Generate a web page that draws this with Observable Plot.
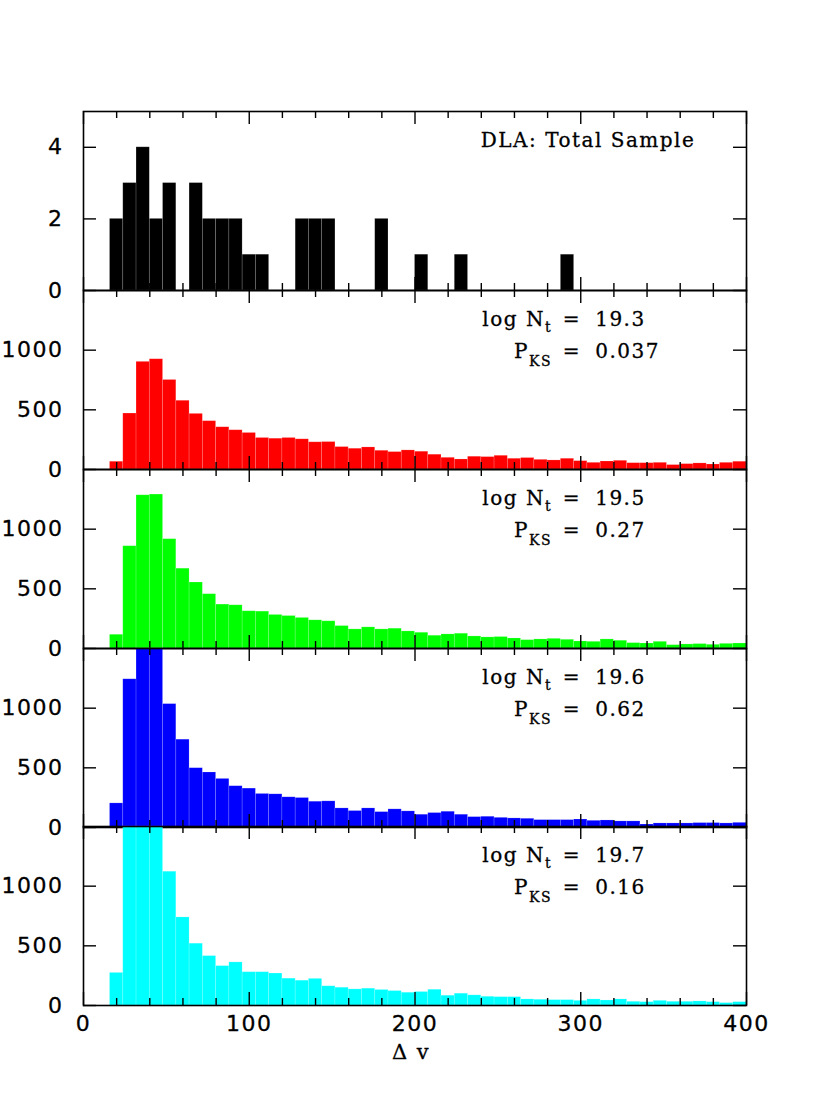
<!DOCTYPE html>
<html><head><meta charset="utf-8">
<script src="https://cdn.jsdelivr.net/npm/d3@7"></script>
<script src="https://cdn.jsdelivr.net/npm/@observablehq/plot@0.6"></script>
<style>
body{margin:0;background:#fff;}
#chart{position:relative;width:830px;height:1117px;overflow:hidden;}
#chart svg{position:absolute;left:0;}
</style></head><body><div id="chart"></div>
<script>
// ---- data (bin left edges, width 8 in Δv) ----
const binLo = [16,24,32,40,48,56,64,72,80,88,96,104,112,120,128,136,144,152,160,168,176,184,192,200,208,216,224,232,240,248,256,264,272,280,288,296,304,312,320,328,336,344,352,360,368,376,384,392];
const binWidth = 8;
const dlaCounts = [2,3,4,2,3,0,3,2,2,2,1,1,0,0,2,2,2,0,0,0,2,0,0,1,0,0,1,0,0,0,0,0,0,0,1,0,0,0,0,0,0,0,0,0,0,0,0,0];
const counts193 = [65,469,902,924,750,576,466,405,354,329,306,264,258,264,253,228,230,188,174,185,157,146,160,149,124,98,84,107,104,115,90,96,81,76,90,70,56,67,73,53,53,56,37,45,51,42,56,65];
const counts195 = [115,857,1284,1290,916,669,553,455,368,362,312,309,281,272,256,236,228,188,160,177,160,166,143,132,107,118,124,101,93,96,84,70,76,81,73,59,56,76,65,45,42,56,28,34,37,31,39,42];
const counts196 = [202,1242,1560,1540,1034,736,497,461,407,346,326,281,278,253,247,216,219,160,138,160,129,152,135,107,121,132,107,87,90,81,76,73,62,62,62,67,56,59,51,51,25,34,34,34,37,37,34,39];
const counts197 = [273,1620,1800,1700,1121,738,518,414,330,361,279,279,268,225,208,223,161,149,135,141,130,121,107,113,132,82,99,85,73,70,70,51,48,45,45,39,51,42,51,31,28,39,31,31,34,28,20,28];
const panelTitle = "DLA: Total Sample";
const logNt = ["19.3","19.5","19.6","19.7"];
const pKS = ["0.037","0.27","0.62","0.16"];
const xMajor = [0,100,200,300,400];
const xMinor = [20,40,60,80,120,140,160,180,220,240,260,280,320,340,360,380];
const yTicksDLA = [0,2,4];
const yTicksSim = [0,500,1000];
const xLabel = "Δ v";

// ---- layout ----
const W = 830, ML = 83, MR = 84, PH = 179, PAD = 12;
const tops = [111, 290, 469, 648, 826];
const FW = W - ML - MR;
const sans = "DejaVu Sans", serif = "DejaVu Serif";

const panels = [
  {counts: dlaCounts, fill: "#000000", domain: [0, 5], ticks: yTicksDLA},
  {counts: counts193, fill: "#ff0000", domain: [0, 1500], ticks: yTicksSim, logN: logNt[0], pks: pKS[0]},
  {counts: counts195, fill: "#00ff00", domain: [0, 1500], ticks: yTicksSim, logN: logNt[1], pks: pKS[1]},
  {counts: counts196, fill: "#0000ff", domain: [0, 1500], ticks: yTicksSim, logN: logNt[2], pks: pKS[2]},
  {counts: counts197, fill: "#00ffff", domain: [0, 1500], ticks: yTicksSim, logN: logNt[3], pks: pKS[3]}
];

function scaleFn(s) {
  if (s && typeof s.apply === "function") return v => s.apply(v);
  const [d0, d1] = s.domain, [r0, r1] = s.range;
  return v => r0 + (v - d0) / (d1 - d0) * (r1 - r0);
}

const chart = document.getElementById("chart");
panels.forEach((p, i) => {
  const last = i === panels.length - 1;
  const mb = last ? 80 : PAD;
  const data = binLo.map((lo, k) => ({lo, hi: lo + binWidth, v: p.counts[k]})).filter(d => d.v > 0);
  const tk = {stroke: "black", strokeWidth: 1.4};
  const lbl = {fontSize: 22, fontFamily: sans, fill: "black", stroke: "black", strokeWidth: 0.3};
  const marks = [
    Plot.rectY(data, {x1: "lo", x2: "hi", y: "v", fill: p.fill, stroke: "white", strokeOpacity: 0.22, strokeWidth: 0.7}),
    Plot.ruleX(xMinor, {x: d => d, insetBottom: PH - 7, ...tk}),
    Plot.ruleX(xMinor, {x: d => d, insetTop: PH - 7, ...tk}),
    Plot.ruleX(xMajor, {x: d => d, insetBottom: PH - 13, ...tk}),
    Plot.ruleX(xMajor, {x: d => d, insetTop: PH - 13, ...tk}),
    Plot.ruleY(p.ticks, {y: d => d, insetRight: FW - 13, ...tk}),
    Plot.ruleY(p.ticks, {y: d => d, insetLeft: FW - 13, ...tk}),
    Plot.frame({stroke: "black", strokeWidth: 1.6}),
    Plot.text(p.ticks, {y: d => d, frameAnchor: "left", dx: -20, textAnchor: "end", text: d => String(d), ...lbl})
  ];
  if (last) {
    marks.push(Plot.text(xMajor, {x: d => d, frameAnchor: "bottom", dy: 25, text: d => String(d), ...lbl}));
    marks.push(Plot.text([xLabel], {frameAnchor: "bottom", dy: 53, dx: -4, text: d => d, fontSize: 21, fontFamily: serif, fill: "black", stroke: "black", strokeWidth: 0.3}));
  }
  const plot = Plot.plot({
    width: W, height: PH + PAD + mb,
    marginLeft: ML, marginRight: MR, marginTop: PAD, marginBottom: mb,
    x: {domain: [0, 400], axis: null},
    y: {domain: p.domain, axis: null, clamp: true},
    style: "background: transparent; overflow: visible; letter-spacing: 1.5px;",
    marks
  });
  plot.style.top = (tops[i] - PAD) + "px";
  chart.appendChild(plot);

  const svg = d3.select(plot);
  const xs = scaleFn(plot.scale("x"));
  const g = svg.append("g").attr("font-family", serif).attr("font-size", 20).attr("fill", "black")
    .attr("stroke", "black").attr("stroke-width", 0.3).attr("text-anchor", "start");
  const y1 = PAD + 36, y2 = PAD + 68;
  if (i === 0) {
    g.append("text").attr("x", xs(240)).attr("y", y1).attr("text-anchor", "start").text(panelTitle);
  } else {
    const a = g.append("text").attr("x", xs(283)).attr("y", y1).attr("text-anchor", "end");
    a.append("tspan").text("log N");
    a.append("tspan").attr("dy", 6).attr("font-size", 14).text("t");
    g.append("text").attr("x", xs(295)).attr("y", y1).attr("text-anchor", "middle").text("=");
    g.append("text").attr("x", xs(309)).attr("y", y1).attr("text-anchor", "start").text(p.logN);
    const b = g.append("text").attr("x", xs(283)).attr("y", y2).attr("text-anchor", "end");
    b.append("tspan").text("P");
    b.append("tspan").attr("dy", 8).attr("font-size", 14).text("KS");
    g.append("text").attr("x", xs(295)).attr("y", y2).attr("text-anchor", "middle").text("=");
    g.append("text").attr("x", xs(309)).attr("y", y2).attr("text-anchor", "start").text(p.pks);
  }
});
</script></body></html>
